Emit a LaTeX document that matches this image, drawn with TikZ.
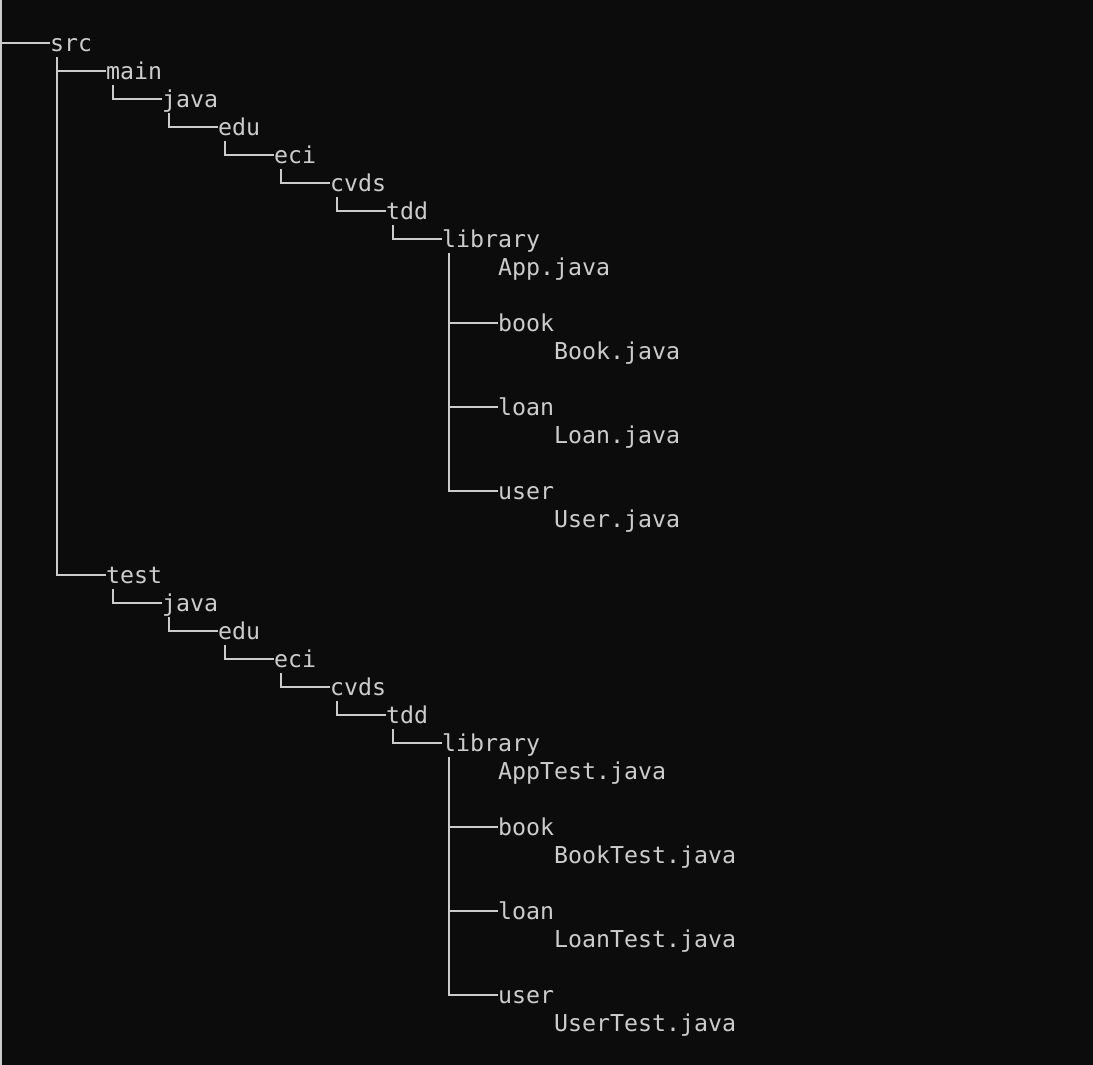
\documentclass[tikz,border=0pt]{standalone}
\usepackage{fontspec}
\setmonofont{DejaVu Sans Mono}
\definecolor{termbg}{HTML}{0C0C0C}
\definecolor{termfg}{HTML}{CCCCCC}
\tikzstyle{entry}=[
	anchor=west,
	inner sep=0pt,
	text height=22.5pt,
	text depth=5.5pt,
	font=\fontsize{23.25pt}{28pt}\ttfamily
]
\tikzstyle{branch}=[
	draw=termfg,
	line width=2pt
]
\begin{document}
\begin{tikzpicture}[x=1pt,y=-1pt,color=termfg]

% Terminal background
\fill[termbg] (0,0) rectangle (1093,1065);
\useasboundingbox (0,0) rectangle (1093,1065);

% Left rail
\draw[branch] (1,0) -- (1,1065);
\coordinate (rail) at (1,43);

% Root
\node[entry] (src) at (50,43){src};

% main branch
\node[entry] (main) at (106,71){main};
\node[entry] (mjava) at (162,99){java};
\node[entry] (medu) at (218,127){edu};
\node[entry] (meci) at (274,155){eci};
\node[entry] (mcvds) at (330,183){cvds};
\node[entry] (mtdd) at (386,211){tdd};
\node[entry] (mlib) at (442,239){library};
\node[entry] (mapp) at (498,267){App.java};
\node[entry] (mbook) at (498,323){book};
\node[entry] (mbookf) at (554,351){Book.java};
\node[entry] (mloan) at (498,407){loan};
\node[entry] (mloanf) at (554,435){Loan.java};
\node[entry] (muser) at (498,491){user};
\node[entry] (muserf) at (554,519){User.java};

% test branch
\node[entry] (test) at (106,575){test};
\node[entry] (tjava) at (162,603){java};
\node[entry] (tedu) at (218,631){edu};
\node[entry] (teci) at (274,659){eci};
\node[entry] (tcvds) at (330,687){cvds};
\node[entry] (ttdd) at (386,715){tdd};
\node[entry] (tlib) at (442,743){library};
\node[entry] (tapp) at (498,771){AppTest.java};
\node[entry] (tbook) at (498,827){book};
\node[entry] (tbookf) at (554,855){BookTest.java};
\node[entry] (tloan) at (498,911){loan};
\node[entry] (tloanf) at (554,939){LoanTest.java};
\node[entry] (tuser) at (498,995){user};
\node[entry] (tuserf) at (554,1023){UserTest.java};

% Rail to root
\draw[branch] (rail) -- (src.west);

% Root to main and test
\draw[branch] ([xshift=7pt]src.south west) |- (main.west);
\draw[branch] ([xshift=7pt]src.south west) |- (test.west);

% Chain under main
\draw[branch] ([xshift=7pt]main.south west) |- (mjava.west);
\draw[branch] ([xshift=7pt]mjava.south west) |- (medu.west);
\draw[branch] ([xshift=7pt]medu.south west) |- (meci.west);
\draw[branch] ([xshift=7pt]meci.south west) |- (mcvds.west);
\draw[branch] ([xshift=7pt]mcvds.south west) |- (mtdd.west);
\draw[branch] ([xshift=7pt]mtdd.south west) |- (mlib.west);

% Packages under main library
\draw[branch] ([xshift=7pt]mlib.south west) |- (mbook.west);
\draw[branch] ([xshift=7pt]mlib.south west) |- (mloan.west);
\draw[branch] ([xshift=7pt]mlib.south west) |- (muser.west);

% Chain under test
\draw[branch] ([xshift=7pt]test.south west) |- (tjava.west);
\draw[branch] ([xshift=7pt]tjava.south west) |- (tedu.west);
\draw[branch] ([xshift=7pt]tedu.south west) |- (teci.west);
\draw[branch] ([xshift=7pt]teci.south west) |- (tcvds.west);
\draw[branch] ([xshift=7pt]tcvds.south west) |- (ttdd.west);
\draw[branch] ([xshift=7pt]ttdd.south west) |- (tlib.west);

% Packages under test library
\draw[branch] ([xshift=7pt]tlib.south west) |- (tbook.west);
\draw[branch] ([xshift=7pt]tlib.south west) |- (tloan.west);
\draw[branch] ([xshift=7pt]tlib.south west) |- (tuser.west);

\end{tikzpicture}
\end{document}
